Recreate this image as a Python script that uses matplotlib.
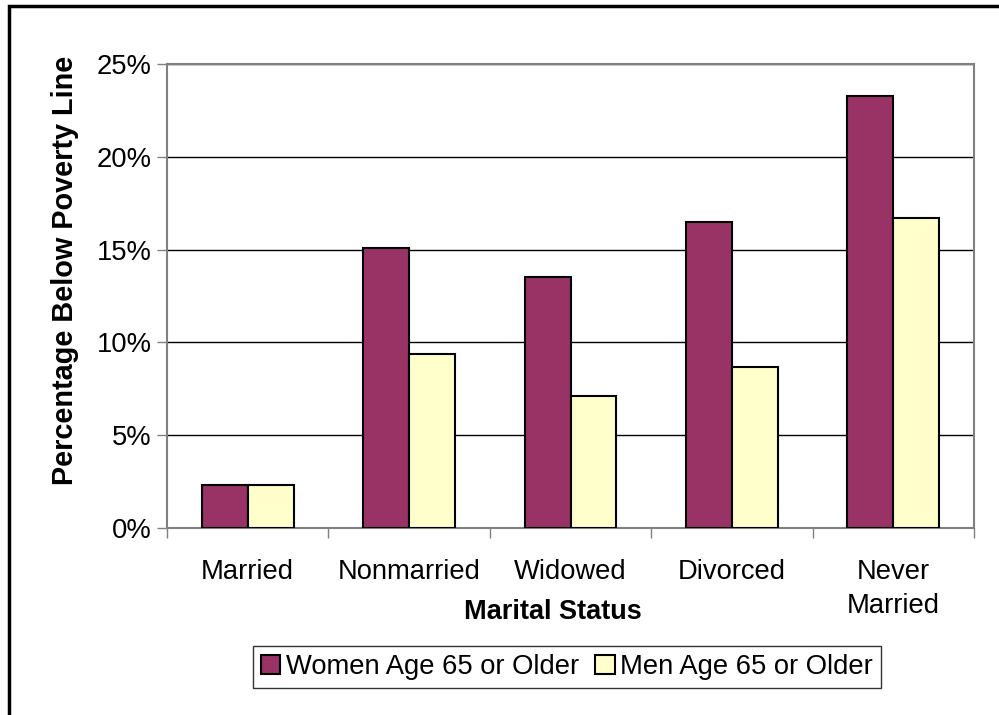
import matplotlib.pyplot as plt
import numpy as np
from matplotlib.patches import Rectangle

plt.rcParams['font.family'] = ['Liberation Sans', 'DejaVu Sans']

categories = ['Married', 'Nonmarried', 'Widowed', 'Divorced', 'Never\nMarried']
women = [2.3, 15.1, 13.5, 16.5, 23.3]
men = [2.3, 9.4, 7.1, 8.7, 16.7]
yticks = [0, 5, 10, 15, 20, 25]

fig = plt.figure(figsize=(9.99, 7.15), dpi=100)
ax = fig.add_axes([167 / 999, 1 - 528 / 715, 807 / 999, 464 / 715])

x = np.arange(len(categories))
w = 0.285
ax.bar(x - w / 2, women, w, color='#993366', edgecolor='black', linewidth=1.5,
       label='Women Age 65 or Older', zorder=3)
ax.bar(x + w / 2, men, w, color='#FFFFCC', edgecolor='black', linewidth=1.5,
       label='Men Age 65 or Older', zorder=3)

ax.set_xlim(-0.5, len(categories) - 0.5)
ax.set_ylim(0, 25)
ax.set_yticks(yticks)
ax.set_yticklabels([f'{t}%' for t in yticks])
ax.yaxis.grid(True, color='black', linewidth=1, zorder=0)
ax.set_axisbelow(True)

ax.set_xticks(x)
ax.set_xticklabels(categories, va='top', ha='center', linespacing=1.4)
ax.set_xticks(np.arange(len(categories) + 1) - 0.5, minor=True)
ax.tick_params(axis='x', which='major', length=0, pad=22, labelsize=19.7)
ax.tick_params(axis='x', which='minor', length=7, width=1, color='#808080')
ax.tick_params(axis='y', length=7, width=1, color='#808080', labelsize=19.7, pad=4)

for s in ax.spines.values():
    s.set_color('#808080')
    s.set_linewidth(1.5)

ax.set_ylabel('Percentage Below Poverty Line', fontsize=20.8, fontweight='bold')
ax.yaxis.set_label_coords(-0.126, 0.556)
ax.yaxis.label.set_va('center')
ax.set_xlabel('Marital Status', fontsize=19.5, fontweight='bold')
ax.xaxis.set_label_coords(0.478, -0.181)
ax.xaxis.label.set_va('center')

leg = ax.legend(loc='center', bbox_to_anchor=(567 / 999, 1 - 667 / 715),
                bbox_transform=fig.transFigure, ncol=2, fontsize=19.7,
                frameon=True, fancybox=False, handlelength=0.7, handleheight=0.7,
                handletextpad=0.2, columnspacing=0.6, borderpad=0.3)
leg.get_frame().set_edgecolor('black')
leg.get_frame().set_linewidth(1)

fig.patches.append(Rectangle((9 / 999, -0.1), 1.2, 1 - 6 / 715 + 0.1,
                             transform=fig.transFigure, fill=False,
                             edgecolor='black', linewidth=2.5))

fig.savefig('out.png', dpi=100)
